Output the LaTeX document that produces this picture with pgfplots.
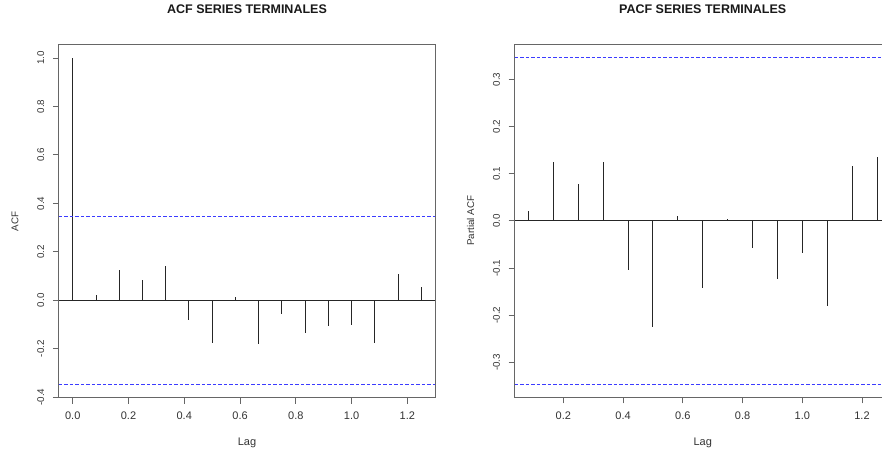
\documentclass[border=0pt]{standalone}
\usepackage{fontspec}
\setmainfont{Liberation Sans}
\usepackage{pgfplots}
\pgfplotsset{compat=1.18}
\definecolor{rblue}{RGB}{60,60,255}
\begin{document}
\begin{tikzpicture}
\path[use as bounding box] (0pt,0pt) rectangle (882pt,450pt);
\clip (0pt,0pt) rectangle (882pt,450pt);
\pgfplotsset{
 rstyle/.style={
  scale only axis, width=376.4pt, height=352.8pt,
  axis line style={black!60, line width=1.1pt},
  tick align=outside, major tick length=6pt,
  tick style={black!60, line width=0.9pt},
  xtick pos=left, ytick pos=left,
  minor tick num=0,
  xticklabel style={font=\fontsize{11}{13}\selectfont, text=black!80},
  yticklabel style={font=\fontsize{9.8}{12}\selectfont, text=black!80, rotate=90, anchor=south},
  xticklabel shift=5pt, yticklabel shift=5pt,
  title style={at={(axis description cs:0.5,1.0833)}, anchor=center, font=\bfseries\fontsize{12.5}{15}\selectfont, text=black!90},
  xlabel style={at={(axis description cs:0.5,-0.1293)}, anchor=center, font=\fontsize{11}{13}\selectfont, text=black!80},
  ylabel style={at={(axis description cs:-0.1164,0.5)}, anchor=center, font=\fontsize{9.8}{12}\selectfont, text=black!80},
  xlabel={Lag},
  clip=true,
 },
 spike/.style={ycomb, no marks, black!85, line width=0.9pt},
 ci/.style={draw=rblue, color=rblue, dash pattern=on 3.5pt off 2pt, line width=1pt, forget plot},
}
\begin{axis}[rstyle, at={(58.8pt,405.1pt)}, anchor=north west,
  xmin=-0.05, xmax=1.3, ymin=-0.402, ymax=1.054,
  xtick={0,0.2,0.4,0.6,0.8,1.0,1.2},
  xticklabels={0.0,0.2,0.4,0.6,0.8,1.0,1.2},
  ytick={-0.4,-0.2,0,0.2,0.4,0.6,0.8,1.0},
  yticklabels={-0.4,-0.2,0.0,0.2,0.4,0.6,0.8,1.0},
  title={ACF SERIES TERMINALES}, ylabel={ACF}]
\addplot[black!85, line width=0.9pt] coordinates {(-0.05,0) (1.3,0)};
\addplot[spike] coordinates {
(0.00000,1.000) (0.08333,0.022) (0.16667,0.126) (0.25000,0.082)
(0.33333,0.140) (0.41667,-0.081) (0.50000,-0.176) (0.58333,0.014)
(0.66667,-0.180) (0.75000,-0.056) (0.83333,-0.136) (0.91667,-0.106)
(1.00000,-0.100) (1.08333,-0.177) (1.16667,0.109) (1.25000,0.056)};
\addplot[ci] coordinates {(-0.05,-0.3465) (1.3,-0.3465)};
\addplot[ci] coordinates {(-0.05,0.3465) (1.3,0.3465)};
\end{axis}
\begin{axis}[rstyle, at={(514.5pt,405.5pt)}, anchor=north west,
  xmin=0.0367, xmax=1.2967, ymin=-0.374, ymax=0.374,
  xtick={0.2,0.4,0.6,0.8,1.0,1.2},
  xticklabels={0.2,0.4,0.6,0.8,1.0,1.2},
  ytick={-0.3,-0.2,-0.1,0,0.1,0.2,0.3},
  yticklabels={-0.3,-0.2,-0.1,0.0,0.1,0.2,0.3},
  title={PACF SERIES TERMINALES}, ylabel={Partial ACF}]
\addplot[black!85, line width=0.9pt] coordinates {(0.0367,0) (1.2967,0)};
\addplot[spike] coordinates {
(0.08333,0.020) (0.16667,0.125) (0.25000,0.079) (0.33333,0.124)
(0.41667,-0.105) (0.50000,-0.224) (0.58333,0.011) (0.66667,-0.143)
(0.75000,0.004) (0.83333,-0.057) (0.91667,-0.123) (1.00000,-0.069)
(1.08333,-0.181) (1.16667,0.117) (1.25000,0.136)};
\addplot[ci] coordinates {(0.0367,-0.3465) (1.2967,-0.3465)};
\addplot[ci] coordinates {(0.0367,0.3465) (1.2967,0.3465)};
\end{axis}
\end{tikzpicture}
\end{document}
